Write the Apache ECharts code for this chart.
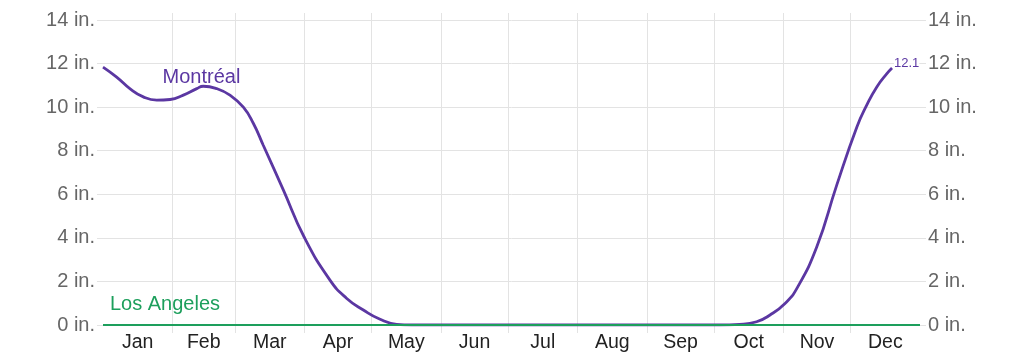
<!DOCTYPE html>
<html>
<head>
<meta charset="utf-8">
<script src="https://cdn.jsdelivr.net/npm/echarts@6/dist/echarts.min.js"></script>
<style>
html,body{margin:0;padding:0;background:#fff;}
#chart{width:1024px;height:356px;}
</style>
</head>
<body>
<div id="chart"></div>
<script>
// Day-of-year where each month begins (Jan..Dec) and year length
const monthStarts = [0, 31, 59, 90, 120, 151, 181, 212, 243, 273, 304, 334];
const yearDays = 365;
const monthNames = ['Jan','Feb','Mar','Apr','May','Jun','Jul','Aug','Sep','Oct','Nov','Dec'];
const yTicks = [0, 2, 4, 6, 8, 10, 12, 14];

// Montréal snowfall (day of year, inches)
const montrealDays = [0, 6.1, 12, 18, 24, 30, 35.9, 41.9, 44.8, 50.8, 56.7, 62.7, 67.2, 71.6, 80.6, 89.8, 101.4, 108.9, 116.3, 123.8, 131.2, 138, 170, 210, 250, 275.4, 284.4, 292, 298, 304.7, 310, 318.9, 327.8, 336.8, 341.2, 345.7, 350.2, 352.5];
const montrealVals = [11.84, 11.38, 10.85, 10.47, 10.32, 10.35, 10.55, 10.85, 10.96, 10.85, 10.55, 10.0, 9.25, 8.25, 6.19, 4.05, 2.06, 1.22, 0.69, 0.26, 0.03, 0, 0, 0, 0, 0, 0.03, 0.15, 0.46, 0.99, 1.68, 3.59, 6.42, 9.09, 10.09, 10.93, 11.54, 11.8];
const montrealPeak = 12.1;

// Los Angeles snowfall (day of year, inches)
const laDays = [0, 365];
const laVals = [0, 0];

// Series name label anchors (day, inches)
const montrealNameAt = [44, 11.37];
const laNameAt = [27.7, 0.92];

const purple = '#5b37a2';
const green = '#1d9f5c';
const gridColor = '#e3e3e3';
const font = "'Liberation Sans', Arial, Helvetica, sans-serif";

const monthEnds = monthStarts.slice(1).concat([yearDays]);
const monthMids = monthStarts.map((s, i) => (s + monthEnds[i]) / 2);
const innerStarts = monthStarts.slice(1);

const chart = echarts.init(document.getElementById('chart'), null, {renderer: 'canvas'});

const yAxisCommon = {
  type: 'value', min: yTicks[0], max: yTicks[yTicks.length - 1], interval: 2,
  axisLine: {show: false},
  axisTick: {show: true, length: 6, lineStyle: {color: gridColor, width: 1}},
  axisLabel: {
    formatter: '{value} in.', color: '#666', fontSize: 20, fontFamily: font, margin: 8
  }
};

chart.setOption({
  animation: false,
  textStyle: {fontFamily: font},
  grid: [
    {left: 103, right: 104, top: 20, bottom: 31, containLabel: false},
    {left: 103, right: 104, top: 13, bottom: 23, containLabel: false}
  ],
  xAxis: [
    {
      type: 'value', gridIndex: 0, min: 0, max: yearDays,
      axisLine: {show: false}, axisTick: {show: false}, splitLine: {show: false},
      axisLabel: {
        customValues: monthMids,
        formatter: function (v) {
          const i = monthMids.findIndex(m => Math.abs(m - v) < 0.01);
          return i >= 0 ? monthNames[i] : '';
        },
        color: '#222', fontSize: 19.5, fontFamily: font, margin: 8
      }
    },
    {
      type: 'value', gridIndex: 1, min: 0, max: yearDays,
      axisLine: {show: false},
      axisTick: {show: false, customValues: innerStarts},
      axisLabel: {show: false},
      splitLine: {show: true, lineStyle: {color: gridColor, width: 1}}
    }
  ],
  yAxis: [
    Object.assign({}, yAxisCommon, {
      gridIndex: 0, position: 'left',
      splitLine: {show: true, lineStyle: {color: gridColor, width: 1}}
    }),
    {
      type: 'value', gridIndex: 1, min: 0, max: 1,
      axisLine: {show: false}, axisTick: {show: false}, axisLabel: {show: false}, splitLine: {show: false}
    },
    Object.assign({}, yAxisCommon, {
      gridIndex: 0, position: 'right',
      splitLine: {show: false}
    })
  ],
  series: [
    {
      name: 'Montréal',
      type: 'line',
      xAxisIndex: 0, yAxisIndex: 0,
      data: montrealDays.map((d, i) => [d, montrealVals[i]]),
      smooth: 0.5,
      showSymbol: false,
      lineStyle: {color: purple, width: 2.8},
      itemStyle: {color: purple},
      z: 3,
      endLabel: {
        show: true,
        formatter: function () { return String(montrealPeak); },
        color: purple, fontSize: 13, fontFamily: font, distance: 2, offset: [0, -5],
        backgroundColor: '#fff'
      },
      markPoint: {
        symbol: 'circle', symbolSize: 0, silent: true,
        label: {show: true, position: 'inside', formatter: '{a}', color: purple, fontSize: 20, fontFamily: font},
        data: [{coord: montrealNameAt}]
      }
    },
    {
      name: 'Los Angeles',
      type: 'line',
      xAxisIndex: 0, yAxisIndex: 0,
      data: laDays.map((d, i) => [d, laVals[i]]),
      showSymbol: false,
      lineStyle: {color: green, width: 2},
      itemStyle: {color: green},
      z: 4,
      markPoint: {
        symbol: 'circle', symbolSize: 0, silent: true,
        label: {show: true, position: 'inside', formatter: '{a}', color: green, fontSize: 20, fontFamily: font},
        data: [{coord: laNameAt}]
      }
    }
  ]
});
</script>
</body>
</html>
